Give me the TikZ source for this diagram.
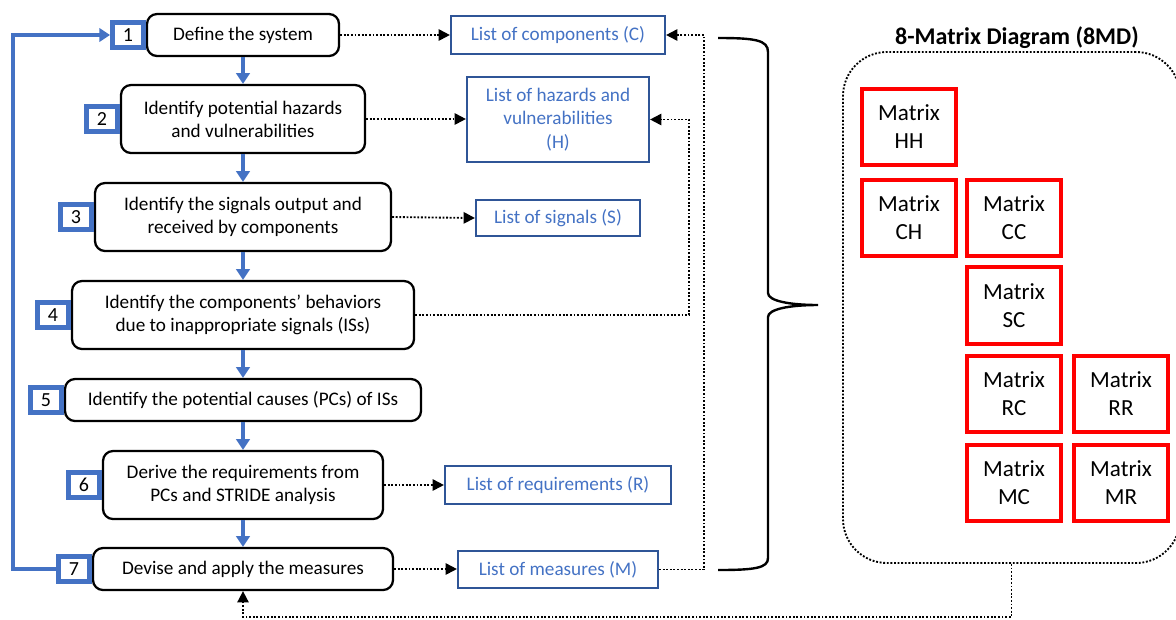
\documentclass[tikz,border=0pt]{standalone}
\usepackage{fontspec}
\setmainfont{Carlito}
\usetikzlibrary{arrows.meta,calc}
\definecolor{cblue}{HTML}{4472C4}
\definecolor{dblue}{HTML}{2F5597}
\definecolor{mred}{HTML}{FF0000}
\begin{document}
\begin{tikzpicture}[x=0.75pt,y=-0.75pt,
 stepbox/.style={draw=black, line width=1.7pt, rounded corners=7.5pt, align=center, font=\fontsize{14.4}{17.4}\selectfont, inner sep=0pt},
 numbox/.style={draw=cblue, line width=3.4pt, minimum width=23.5pt, minimum height=19pt, inner sep=0pt, font=\fontsize{15}{18}\selectfont, anchor=east},
 listbox/.style={draw=dblue, line width=1.6pt, text=cblue, align=center, inner sep=0pt, font=\fontsize{14.4}{17.4}\selectfont},
 matbox/.style={draw=mred, line width=3pt, minimum width=70.5pt, minimum height=57.5pt, align=center, inner sep=0pt, font=\fontsize{17.3}{21}\selectfont},
 flow/.style={draw=cblue, line width=2.6pt, -{Triangle[length=8pt,width=10pt]}},
 dotarrow/.style={line width=1.4pt, dash pattern=on 1.4pt off 1.3pt, -{Triangle[length=8.5pt,width=8.5pt]}},
 dotline/.style={line width=1.4pt, dash pattern=on 1.4pt off 1.3pt},
]
\useasboundingbox (0,0) rectangle (1176,619);
\clip (0,0) rectangle (1176,619);

% steps
\node[stepbox, minimum width=144pt, minimum height=31.5pt] (s1) at (243,35) {Define the system};
\node[stepbox, minimum width=183pt, minimum height=51pt] (s2) at (243,119) {Identify potential hazards\\and vulnerabilities};
\node[stepbox, minimum width=222pt, minimum height=51pt] (s3) at (243,217) {Identify the signals output and\\received by components};
\node[stepbox, minimum width=256.5pt, minimum height=51pt] (s4) at (243,315) {Identify the components’ behaviors\\due to inappropriate signals (ISs)};
\node[stepbox, minimum width=267pt, minimum height=31.5pt] (s5) at (243,400) {Identify the potential causes (PCs) of ISs};
\node[stepbox, minimum width=210pt, minimum height=51pt] (s6) at (243,485) {Derive the requirements from\\PCs and STRIDE analysis};
\node[stepbox, minimum width=225pt, minimum height=31.5pt] (s7) at (243,569) {Devise and apply the measures};

% number boxes
\node[numbox] (n1) at (s1.west) {1};
\node[numbox] (n2) at (s2.west) {2};
\node[numbox] (n3) at (s3.west) {3};
\node[numbox] (n4) at (s4.west) {4};
\node[numbox] (n5) at (s5.west) {5};
\node[numbox] (n6) at (s6.west) {6};
\node[numbox] (n7) at (s7.west) {7};

% flow arrows
\draw[flow] (s1.south) -- (s2.north);
\draw[flow] (s2.south) -- (s3.north);
\draw[flow] (s3.south) -- (s4.north);
\draw[flow] (s4.south) -- (s5.north);
\draw[flow] (s5.south) -- (s6.north);
\draw[flow] (s6.south) -- (s7.north);
\coordinate (fbc) at (13,0);
\draw[flow] (n7.west) -- (n7.west -| fbc) |- (n1.west);

% lists
\node[listbox, minimum width=160.5pt, minimum height=28.5pt] (C) at (558,35) {List of components (C)};
\node[listbox, minimum width=136.5pt, minimum height=63.75pt] (H) at (558,119.5) {List of hazards and\\vulnerabilities\\(H)};
\node[listbox, minimum width=123pt, minimum height=27pt] (S) at (558,218) {List of signals (S)};
\node[listbox, minimum width=169.5pt, minimum height=28.5pt] (R) at (558,485) {List of requirements (R)};
\node[listbox, minimum width=150pt, minimum height=27.75pt] (M) at (558,569.5) {List of measures (M)};

\draw[dotarrow] (s1.east) -- (C.west);
\draw[dotarrow] (s2.east) -- (s2.east -| H.west);
\draw[dotarrow] (s3.east) -- (S.west);
\draw[dotarrow] (s6.east) -- (R.west);
\draw[dotarrow] (s7.east) -- (s7.east -| M.west);
\coordinate (j4) at (689,119.5);
\draw[dotarrow] (s4.east) -| (j4) -- (H.east);
\coordinate (jm) at (704,35);
\draw[dotarrow] (M.east) -| (jm) -- (C.east);

% brace
\draw[line width=1.8pt] (718,38) .. controls (755,38) and (768,40) .. (768,52) -- (768,293)
  .. controls (768,301) and (790,305) .. (818,305)
  .. controls (790,305) and (768,309) .. (768,317) -- (768,558)
  .. controls (768,568) and (755,570) .. (718,570);

% 8MD
\node[draw, dotline, rounded corners=33pt, minimum width=252.75pt, minimum height=383.25pt, inner sep=0pt] (md) at (1011.5,307.5) {};
\node[font=\bfseries\fontsize{18}{21}\selectfont] (mdt) at (1017,38) {8-Matrix Diagram (8MD)};

\node[matbox] (HH) at (909,127) {Matrix\\HH};
\node[matbox] (CH) at (909,218) {Matrix\\CH};
\node[matbox] (CC) at (1014,218) {Matrix\\CC};
\node[matbox] (SC) at (1014,305.5) {Matrix\\SC};
\node[matbox] (RC) at (1014,394) {Matrix\\RC};
\node[matbox] (RR) at (1121,394) {Matrix\\RR};
\node[matbox] (MC) at (1014,483) {Matrix\\MC};
\node[matbox] (MR) at (1121,483) {Matrix\\MR};

\coordinate (b1) at (1011.5,617);
\draw[dotarrow] (md.south) -- (b1) -| (s7.south);
\end{tikzpicture}
\end{document}
